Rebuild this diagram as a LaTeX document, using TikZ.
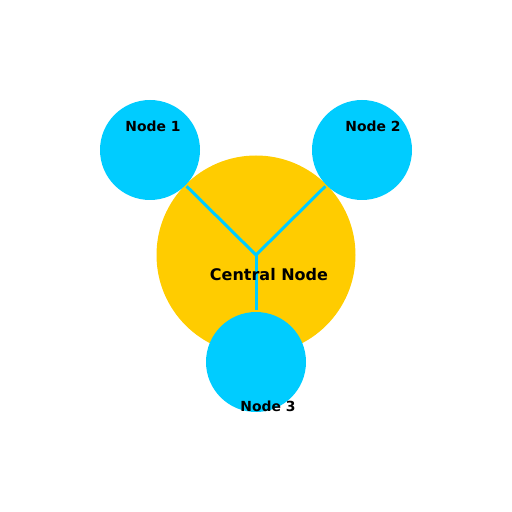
\documentclass[tikz,border=0pt]{standalone}
\usepackage{fontspec}
\setmainfont{DejaVu Sans}
\usetikzlibrary{calc}
\definecolor{hubyellow}{HTML}{FFCC00}
\definecolor{leafcyan}{HTML}{00CCFF}

\begin{document}
\begin{tikzpicture}[x=1pt, y=1pt, line width=3pt]
\tikzstyle{hub}=[circle,fill=hubyellow,minimum size=199pt,inner sep=0pt]
\tikzstyle{leaf}=[circle,fill=leafcyan,minimum size=100pt,inner sep=0pt]
\tikzstyle{txt}=[font=\bfseries\fontsize{13.9}{16}\selectfont,text=black,inner sep=0pt]
\useasboundingbox (0,0) rectangle (512,512);
\node[hub]    (C)   at (256,257)   {};
\node[leaf]   (A)   at (150,362)   {};
\node[leaf]   (B)   at (362,362)   {};
\node[leaf]   (D)   at (256,150)   {};
\draw[leafcyan] (C.center) -- (A);
\draw[leafcyan] (C.center) -- (B);
\draw[leafcyan] (C.center) -- (D);
\node[txt]    (tA)  at (153,386)   {Node 1};
\node[txt]    (tB)  at (373,386)   {Node 2};
\node[txt]    (tD)  at (268,106)   {Node 3};
\node[txt,font=\bfseries\fontsize{16}{19}\selectfont] (tC) at (269,237) {Central Node};
\end{tikzpicture}
\end{document}
